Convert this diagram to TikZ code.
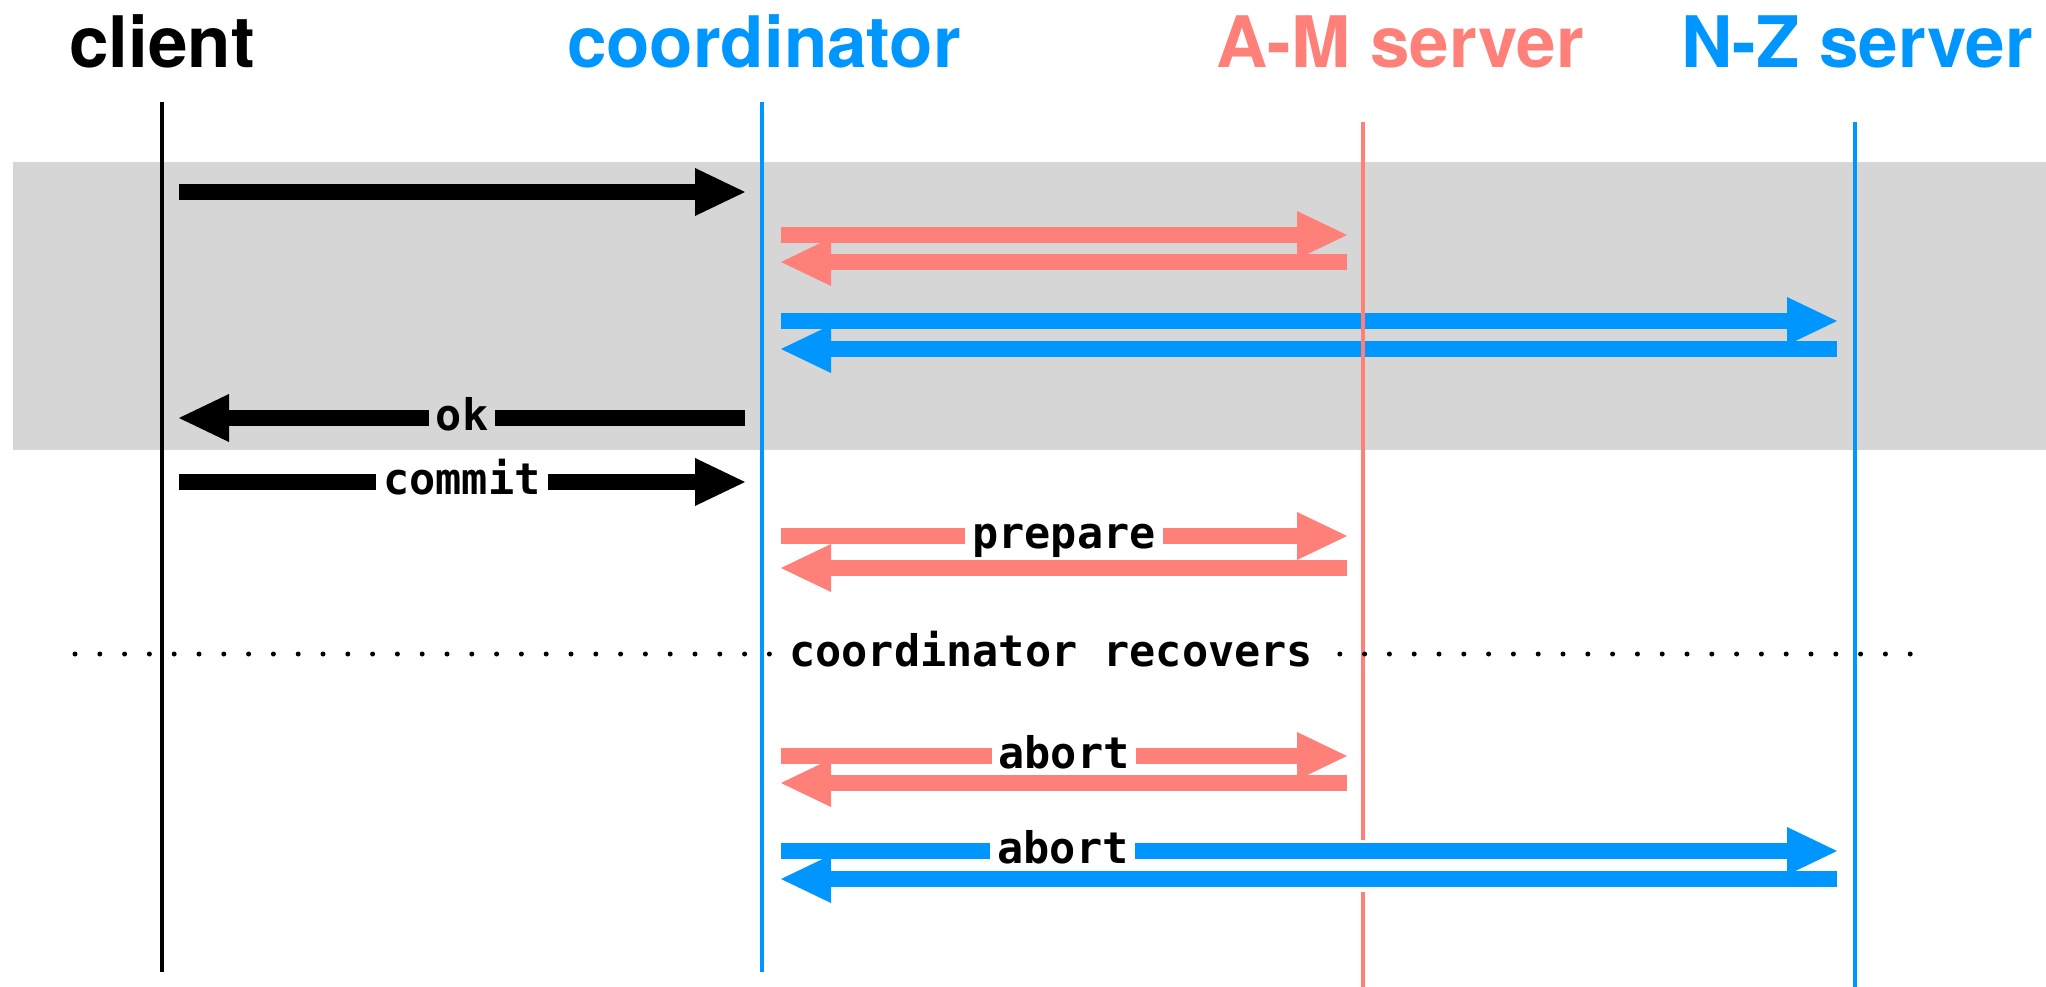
\documentclass[tikz,border=0pt]{standalone}
\usepackage{fontspec}
\usetikzlibrary{arrows.meta,calc}
\newfontfamily\headfont{TeX Gyre Heros}
\newfontfamily\msgfont{DejaVu Sans Mono}
\definecolor{amred}{RGB}{255,127,121}
\definecolor{nzblue}{RGB}{0,150,255}
\definecolor{bandgray}{RGB}{214,214,214}

\tikzset{
  head/.style={font=\headfont\bfseries\fontsize{71}{80}\selectfont, anchor=base, inner sep=0pt},
  life/.style={line width=3.5pt},
  msg/.style={line width=16.5pt, -{Triangle[length=50pt,width=48pt,line width=0pt]}},
  lbl/.style={font=\msgfont\bfseries\fontsize{43.5}{50}\selectfont, anchor=base, yshift=-12pt,
    fill=white, text=black, inner xsep=7pt, inner ysep=1pt},
  recovery/.style={line width=5pt, line cap=round, dash pattern=on 0pt off 24.8pt},
}

\begin{document}
\begin{tikzpicture}[x=1pt,y=-1pt]
    \useasboundingbox (0,0) rectangle (2046,987);
    \fill[bandgray] (13,162) rectangle (2046,450);

    \node[head] (client) at (162,68) {client};
    \node[head, text=nzblue] (coord) at (764,68) {coordinator};
    \node[head, text=amred] (amsrv) at (1400,68) {A-M server};
    \node[head, text=nzblue] (nzsrv) at (1857,68) {N-Z server};

    % lifelines
    \coordinate (cl-top) at (162,102);
    \coordinate (co-top) at (762,102);
    \coordinate (am-top) at (1363,122);
    \coordinate (nz-top) at (1855,122);
    \draw[life] (cl-top) -- (cl-top |- 0,972);
    \draw[life, nzblue] (co-top) -- (co-top |- 0,972);
    \draw[life, nzblue] (nz-top) -- (nz-top |- 0,987);

    % where the messages start and stop
    \coordinate (cl) at (179,0);
    \coordinate (co-w) at (745,0);
    \coordinate (co-e) at (781,0);
    \coordinate (am) at (1347,0);
    \coordinate (nz) at (1837,0);

    \draw[msg] (cl |- 0,192) -- (co-w |- 0,192);
    \draw[msg, amred] (co-e |- 0,235) -- (am |- 0,235);
    \draw[msg, amred] (am |- 0,262) -- (co-e |- 0,262);
    \draw[msg, nzblue] (co-e |- 0,321) -- (nz |- 0,321);
    \draw[msg, nzblue] (nz |- 0,349) -- (co-e |- 0,349);
    \draw[msg] (co-w |- 0,418) -- node[lbl, fill=bandgray] {ok} (cl |- 0,418);

    \draw[msg] (cl |- 0,482) -- node[lbl] {commit} (co-w |- 0,482);
    \draw[msg, amred] (co-e |- 0,536) -- node[lbl] {prepare} (am |- 0,536);
    \draw[msg, amred] (am |- 0,568) -- (co-e |- 0,568);

    \draw[msg, amred] (co-e |- 0,756) -- node[lbl] {abort} (am |- 0,756);
    \draw[msg, amred] (am |- 0,783) -- (co-e |- 0,783);
    \draw[msg, nzblue] (co-e |- 0,851) -- node[lbl, pos=0.267] {abort} (nz |- 0,851);
    \draw[msg, nzblue] (nz |- 0,879) -- (co-e |- 0,879);

    % the A-M lifeline runs over the blue messages, but breaks at the last pair
    \draw[life, amred] (am-top) -- (am-top |- 0,840);
    \draw[life, amred] (am-top |- 0,892) -- (am-top |- 0,987);

    \coordinate (rec-w) at (75,654);
    \coordinate (rec-e) at (1917,654);
    \draw[recovery] (rec-w) -- node[lbl, pos=0.53, inner xsep=6pt] {coordinator recovers} (rec-e);
\end{tikzpicture}
\end{document}
